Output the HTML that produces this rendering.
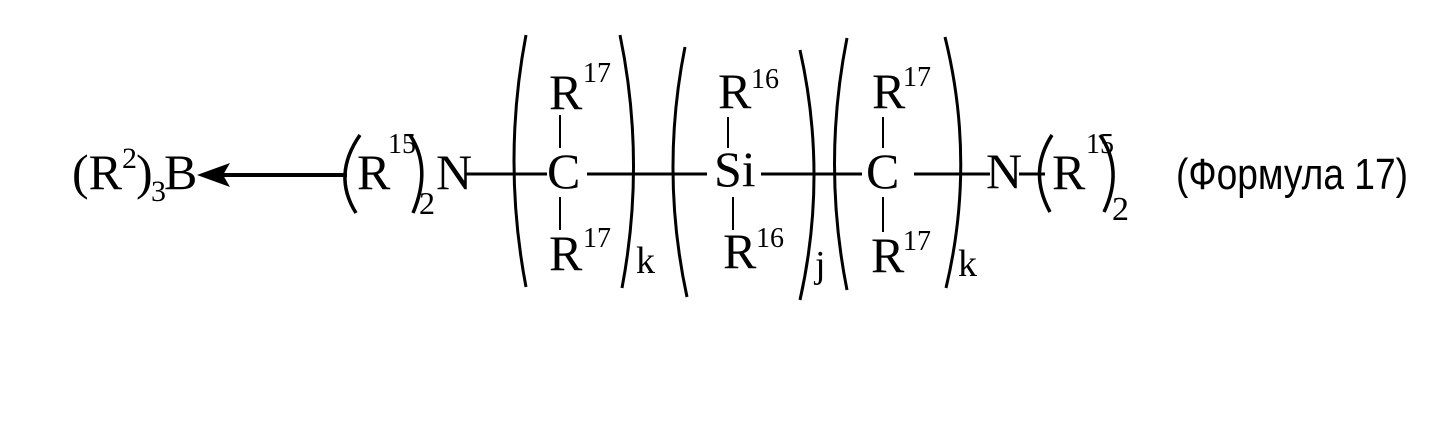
<!DOCTYPE html>
<html><head><meta charset="utf-8"><style>
html,body{margin:0;padding:0;background:#fff;}
svg{display:block;}
.s{font-family:"Liberation Serif",serif;fill:#000;}
</style></head><body>
<svg width="1448" height="433" viewBox="0 0 1448 433" xmlns="http://www.w3.org/2000/svg">
<g class="s" font-size="50">
<!-- (R2)3B -->
<text x="72" y="189">(R</text>
<text x="122" y="168" font-size="30">2</text>
<text x="136" y="189">)</text>
<text x="151" y="201" font-size="30">3</text>
<text x="164" y="189">B</text>
<!-- arrow -->
<line x1="222" y1="175" x2="347" y2="175" stroke="#000" stroke-width="4"/>
<polygon points="197,175 230,163 223,175 230,187" fill="#000"/>
<!-- (R15)2N left -->
<path d="M360,135 Q332,175 356,213" fill="none" stroke="#000" stroke-width="3.5"/>
<text x="357" y="189">R</text>
<text x="388" y="153" font-size="28">15</text>
<path d="M410,135 Q432,168 413,213" fill="none" stroke="#000" stroke-width="3.5"/>
<text x="419" y="214" font-size="32">2</text>
<text x="436" y="189">N</text>
<line x1="466" y1="174" x2="547" y2="174" stroke="#000" stroke-width="3"/>
<!-- group 1 -->
<path d="M526,35 Q502,161 526,287" fill="none" stroke="#000" stroke-width="3"/>
<path d="M620,35 Q646,161 622,288" fill="none" stroke="#000" stroke-width="3"/>
<text x="547" y="188">C</text>
<text x="549" y="109">R</text><text x="583" y="82" font-size="28">17</text>
<line x1="560" y1="115" x2="560" y2="148" stroke="#000" stroke-width="2"/>
<line x1="560" y1="197" x2="560" y2="230" stroke="#000" stroke-width="2"/>
<text x="549" y="270">R</text><text x="583" y="247" font-size="28">17</text>
<line x1="587" y1="174" x2="707" y2="174" stroke="#000" stroke-width="3"/>
<text x="636" y="273" font-size="38">k</text>
<!-- group 2 -->
<path d="M685,47 Q660,172 687,297" fill="none" stroke="#000" stroke-width="3"/>
<path d="M800,50 Q828,175 800,300" fill="none" stroke="#000" stroke-width="3"/>
<text x="714" y="186">Si</text>
<text x="718" y="108">R</text><text x="751" y="88" font-size="28">16</text>
<line x1="728" y1="117" x2="728" y2="148" stroke="#000" stroke-width="2"/>
<line x1="733" y1="197" x2="733" y2="230" stroke="#000" stroke-width="2"/>
<text x="723" y="268">R</text><text x="756" y="247" font-size="28">16</text>
<line x1="761" y1="174" x2="862" y2="174" stroke="#000" stroke-width="3"/>
<text x="815" y="277" font-size="38">j</text>
<!-- group 3 -->
<path d="M847,38 Q822,164 847,290" fill="none" stroke="#000" stroke-width="3"/>
<path d="M945,37 Q976,162 946,288" fill="none" stroke="#000" stroke-width="3"/>
<text x="866" y="188">C</text>
<text x="872" y="108">R</text><text x="903" y="86" font-size="28">17</text>
<line x1="883" y1="117" x2="883" y2="148" stroke="#000" stroke-width="2"/>
<line x1="883" y1="197" x2="883" y2="232" stroke="#000" stroke-width="2"/>
<text x="871" y="272">R</text><text x="903" y="250" font-size="28">17</text>
<line x1="914" y1="174" x2="990" y2="174" stroke="#000" stroke-width="3"/>
<text x="958" y="276" font-size="38">k</text>
<!-- N(R15)2 right -->
<text x="986" y="188">N</text>
<line x1="1019" y1="174" x2="1045" y2="174" stroke="#000" stroke-width="3"/>
<path d="M1052,135 Q1028,172 1050,212" fill="none" stroke="#000" stroke-width="3.5"/>
<text x="1052" y="189">R</text>
<text x="1086" y="153" font-size="28">15</text>
<path d="M1100,135 Q1124,170 1104,212" fill="none" stroke="#000" stroke-width="3.5"/>
<text x="1112" y="220" font-size="34">2</text>
</g>
<text x="1176" y="189" font-family="Liberation Sans, sans-serif" font-size="44" textLength="232" lengthAdjust="spacingAndGlyphs">(Формула 17)</text>
</svg>
</body></html>
